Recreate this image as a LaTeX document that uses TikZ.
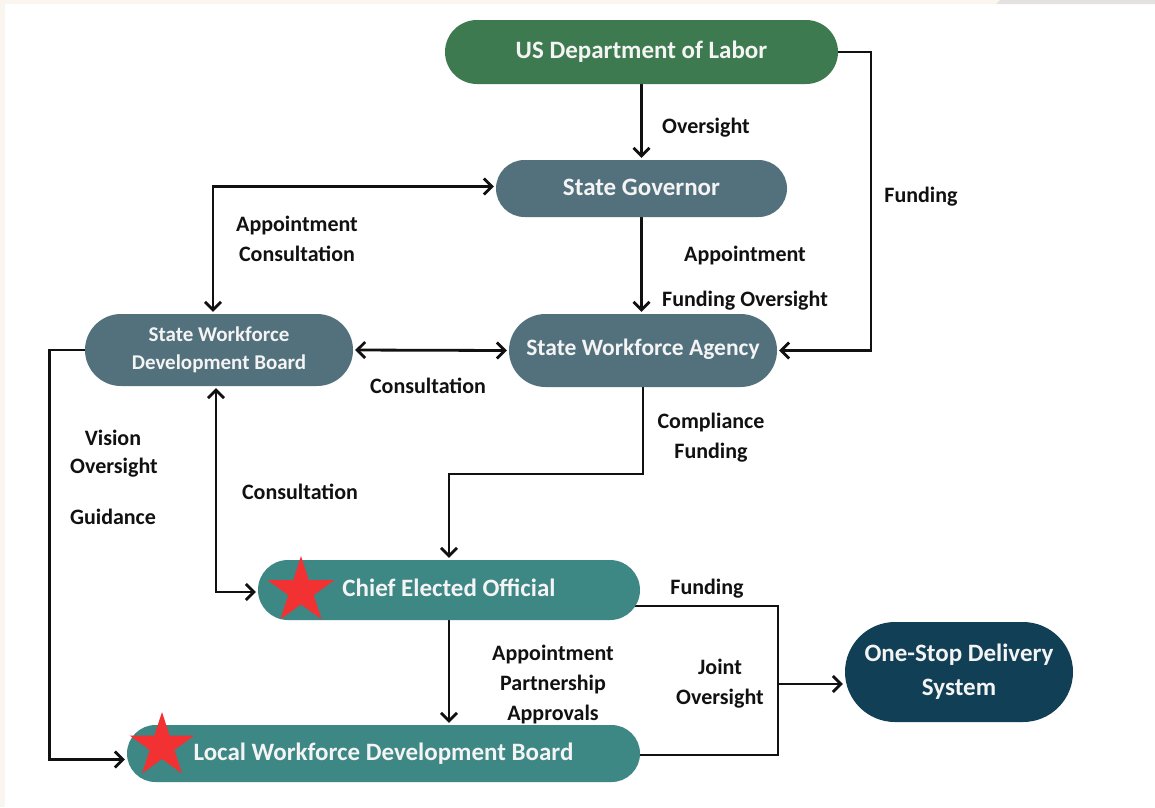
\documentclass[tikz,border=0pt]{standalone}
\usepackage{fontspec}
\setmainfont{Carlito}
\usetikzlibrary{arrows.meta,shapes.geometric,shapes.misc,calc}
\definecolor{dolgreen}{HTML}{3E7A50}
\definecolor{slate}{HTML}{52717D}
\definecolor{tealbox}{HTML}{3D8785}
\definecolor{darkbox}{HTML}{113F55}
\definecolor{nodetext}{HTML}{F4F4F4}
\definecolor{beige}{HTML}{FBF5EF}
\definecolor{grayband}{HTML}{E4E2E0}
\definecolor{starred}{HTML}{F23232}
\definecolor{ink}{HTML}{111111}
\pgfdeclarelayer{bg}
\pgfdeclarelayer{edges}
\pgfsetlayers{bg,edges,main}
\begin{document}
\begin{tikzpicture}[x=1pt,y=-1pt,
  pill/.style={rounded rectangle, inner sep=0pt, text=nodetext, align=center},
  fs/.style={font=\bfseries\fontsize{#1}{#1}\selectfont},
  lbl/.style={text=ink, align=center, inner sep=0pt, font=\bfseries\fontsize{22}{30}\selectfont},
  conn/.style={draw=ink, line width=2.8pt},
  tip/.style={-{Straight Barb[length=8pt,width=16pt]}, shorten >=2pt},
  tips/.style={{Straight Barb[length=8pt,width=16pt]}-{Straight Barb[length=8pt,width=16pt]}, shorten >=2pt, shorten <=2pt},
  starshape/.style={star, star points=5, star point ratio=2.618, fill=starred, inner sep=0pt, minimum size=#1}
]
\begin{pgfonlayer}{bg}
\fill[white] (0,0) rectangle (1155,807);
\fill[beige] (0,0) rectangle (1155,4);
\fill[beige] (0,0) rectangle (5,807);
\fill[grayband] (1000,0) -- (1155,0) -- (1155,4) -- (996,4) -- cycle;
\end{pgfonlayer}
\useasboundingbox (0,0) rectangle (1155,807);

% nodes
\node[pill, fs=25, fill=dolgreen, minimum width=393pt, minimum height=64pt] (dol) at (641.5,52) {\raisebox{3pt}{US Department of Labor}};
\node[pill, fs=25, fill=slate, minimum width=291pt, minimum height=57pt] (gov) at (641.5,188.5) {\raisebox{2pt}{State Governor}};
\node[pill, fill=slate, minimum width=268pt, minimum height=72pt, font=\bfseries\fontsize{21}{28}\selectfont] (swdb) at (219,350) {State Workforce\\Development Board};
\node[pill, fs=23.5, fill=slate, minimum width=268pt, minimum height=73pt] (swa) at (643,350.5) {\raisebox{7pt}{State Workforce Agency}};
\node[pill, fs=25, fill=tealbox, minimum width=382pt, minimum height=60pt] (ceo) at (449,590) {\raisebox{4pt}{Chief Elected Official}};
\node[pill, fs=25, fill=tealbox, minimum width=513pt, minimum height=57pt] (lwdb) at (383.5,753.5) {\raisebox{2pt}{Local Workforce Development Board}};
\node[pill, fill=darkbox, minimum width=228pt, minimum height=100pt, font=\bfseries\fontsize{25}{34}\selectfont] (osds) at (959,672) {One-Stop Delivery\\System};

\node[starshape=70pt] (star1) at (301,591) {};
\node[starshape=68pt] (star2) at (162,746) {};

% helper coordinates
\coordinate (fr) at (871,52);
\coordinate (cb) at (643,474);
\coordinate (jn) at (778,684);

% connectors
\begin{pgfonlayer}{edges}
\draw[conn, tip] (dol.south) -- (gov.north);
\draw[conn, tip] (dol.east) -- (fr) |- (swa.east);
\draw[conn, tip] (gov.south) -- (gov.south |- swa.north);
\draw[conn, tips] ($(swdb.north)+(-6,0)$) |- ($(gov.west)+(0,-2)$);
\draw[conn, tips] (swdb.east) -- (swa.west);
\draw[conn, tip] (swdb.west) -- ++(-35,0) |- ($(lwdb.west)+(0,6)$);
\draw[conn, tips] ($(swdb.south)+(-3,0)$) |- ($(ceo.west)+(0,2)$);
\draw[conn, tip] (swa.south) -- (cb) -| (ceo.north);
\draw[conn, tip] (ceo.south) -- (ceo.south |- lwdb.north);
\draw[conn] ($(ceo.east)+(-20,16)$) -| (jn) |- ($(lwdb.east)+(-10,1.5)$);
\draw[conn, tip] (jn) -- (jn -| osds.west);
\end{pgfonlayer}

% labels
\node[lbl] (l1) at (706,128) {Oversight};
\node[lbl] (l2) at (921,197) {Funding};
\node[lbl] (l3) at (745,256) {Appointment};
\node[lbl] (l4) at (745,301) {Funding Oversight};
\node[lbl] (l5) at (297,239) {Appointment\\Consultation};
\node[lbl] (l6) at (428,386) {Consultation};
\node[lbl] (l7) at (113,438) {Vision};
\node[lbl] (l8) at (114,468) {Oversight};
\node[lbl] (l9) at (113,517) {Guidance};
\node[lbl] (l10) at (300,492) {Consultation};
\node[lbl] (l11) at (711,438) {Compliance\\Funding};
\node[lbl] (l12) at (553,684) {Appointment\\Partnership\\Approvals};
\node[lbl] (l13) at (707,589) {Funding};
\node[lbl] (l14) at (720,684) {Joint\\Oversight};
\end{tikzpicture}
\end{document}
